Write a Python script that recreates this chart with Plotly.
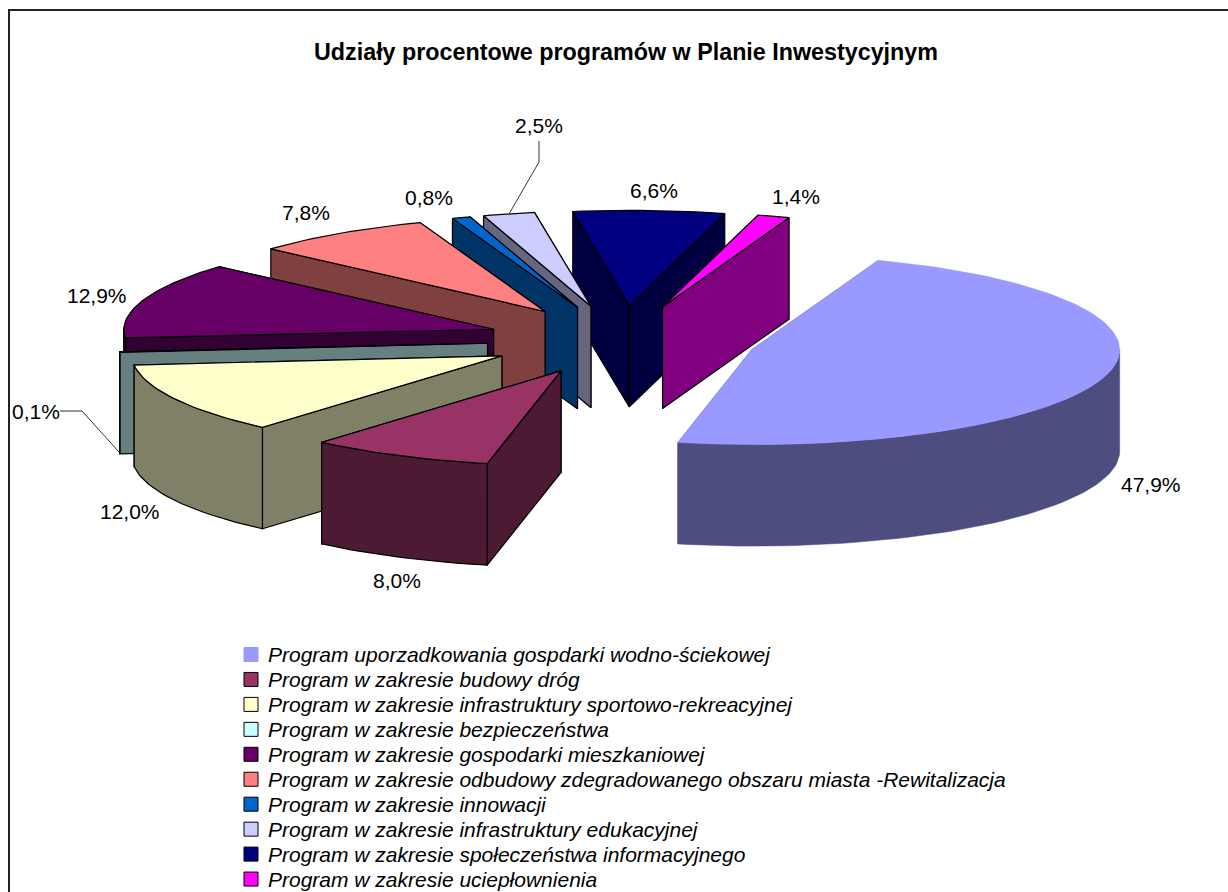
import math
import plotly.graph_objects as go

title = "Udziały procentowe programów w Planie Inwestycyjnym"
programs = [
    "Program uporzadkowania gospdarki wodno-ściekowej",
    "Program w zakresie budowy dróg",
    "Program w zakresie infrastruktury sportowo-rekreacyjnej",
    "Program w zakresie bezpieczeństwa",
    "Program w zakresie gospodarki mieszkaniowej",
    "Program w zakresie odbudowy zdegradowanego obszaru miasta -Rewitalizacja",
    "Program w zakresie innowacji",
    "Program w zakresie infrastruktury edukacyjnej",
    "Program w zakresie społeczeństwa informacyjnego",
    "Program w zakresie uciepłownienia",
]
shares = [47.9, 8.0, 12.0, 0.1, 12.9, 7.8, 0.8, 2.5, 6.6, 1.4]
top_colors = ["#9999FF", "#993366", "#FFFFCC", "#CCFFFF", "#660066",
              "#FF8080", "#0066CC", "#CCCCFF", "#000080", "#FF00FF"]
wall_colors = ["#4D4D80", "#4D1A33", "#808066", "#668080", "#330033",
               "#804040", "#003366", "#666680", "#000040", "#800080"]
outlined = [False] + [True] * 9

# pie projection (layout, not data)
W, H = 1228, 892
CX, CY = 622.0, 340.0
RX, RY = 370.0, 95.0
DEPTH = 101.5
EXPLODE = 0.365
FIRST_ANGLE = 20.0

label_x = [1151, 397, 130, 36, 97, 306, 429, 539, 654, 796]
label_y = [484, 580, 511, 411, 295, 212, 197, 125, 190, 196]


def pt(t):
    r = math.radians(t)
    s, c = math.sin(r), math.cos(r)
    px = RX * s
    if s < 0:
        f = 6.0 * abs(c)
        if c > 0:
            f *= min(1.0, max(0.0, (abs(s) - 0.15) / 0.15))
        px += f
    elif s > 0.5:
        px -= 2.0 * (s - 0.5) / 0.5
    return px, -RY * c


def arc(t0, t1, ax, ay, dy=0.0):
    n = max(2, int(abs(t1 - t0) / 1.5) + 2)
    out = []
    for i in range(n):
        t = t0 + (t1 - t0) * i / (n - 1)
        px, py = pt(t)
        out.append((ax + px, ay + py + dy))
    return out


fig = go.Figure()
slices = []
start = FIRST_ANGLE
for i, s in enumerate(shares):
    end = start + s * 3.6
    slices.append((i, start, end))
    start = end


def bis_cos(sl):
    return math.cos(math.radians((sl[1] + sl[2]) / 2))


def add_face(points, fill, line_on, name):
    xs = [p[0] for p in points] + [points[0][0]]
    ys = [p[1] for p in points] + [points[0][1]]
    fig.add_trace(go.Scatter(
        x=xs, y=ys, mode="lines", fill="toself", fillcolor=fill, name=name,
        line=dict(color="#000000" if line_on else fill, width=1.2 if line_on else 0.5),
        hoverinfo="skip", showlegend=False,
    ))


for i, t0, t1 in sorted(slices, key=bis_cos, reverse=True):
    mid = math.radians((t0 + t1) / 2)
    ax = CX + EXPLODE * RX * math.sin(mid)
    ay = CY - EXPLODE * RY * math.cos(mid)
    wall = wall_colors[i]
    line_on = outlined[i]
    radials = []
    for t in (t0, t1):
        px, py = pt(t)
        radials.append((py, [(ax, ay), (ax + px, ay + py),
                             (ax + px, ay + py + DEPTH), (ax, ay + DEPTH)]))
    for _, face in sorted(radials, key=lambda r: r[0]):
        add_face(face, wall, line_on, programs[i])
    # front-facing outer wall: the part of the arc between 90 and 270 degrees (mod 360)
    for k in (0, 360):
        a0, a1 = max(t0, 90 + k), min(t1, 270 + k)
        if a1 > a0:
            add_face(arc(a0, a1, ax, ay) + arc(a1, a0, ax, ay, DEPTH), wall, line_on, programs[i])
    add_face([(ax, ay)] + arc(t0, t1, ax, ay), top_colors[i], line_on, programs[i])

# legend rows
LEG_Y0, LEG_DY = 654.5, 24.95
leg_y = [LEG_Y0 + LEG_DY * k for k in range(len(programs))]
fig.add_trace(go.Scatter(
    x=[251] * len(programs), y=leg_y, mode="markers",
    marker=dict(symbol="square", size=14, color=top_colors,
                line=dict(color=["#9999FF"] + ["#000000"] * 9, width=1)),
    hoverinfo="skip", showlegend=False,
))
annotations = [dict(x=266, y=yy, text=f"<i>{p}</i>", xref="x", yref="y", showarrow=False,
                    xanchor="left", yanchor="middle", font=dict(size=21, color="#000000"))
               for p, yy in zip(programs, leg_y)]
annotations.append(dict(x=625.5, y=52, text=f"<b>{title}</b>", xref="x", yref="y", showarrow=False,
                        xanchor="center", yanchor="middle", font=dict(size=23.3, color="#000000")))
for s, lx, ly in zip(shares, label_x, label_y):
    annotations.append(dict(x=lx, y=ly, text=f"{s:.1f}%".replace(".", ","), xref="x", yref="y",
                            showarrow=False, xanchor="center", yanchor="middle",
                            font=dict(size=21, color="#000000")))

# leader lines
fig.add_trace(go.Scatter(x=[60, 82, 119, None, 539, 539, 509], y=[411, 411, 452, None, 141, 162, 214],
                         mode="lines", line=dict(color="#333333", width=1),
                         hoverinfo="skip", showlegend=False))

shapes = [dict(type="rect", xref="x", yref="y", x0=9, y0=10, x1=W + 20, y1=H + 20,
               line=dict(color="#222222", width=2), fillcolor="rgba(0,0,0,0)", layer="above")]

fig.update_layout(
    width=W, height=H, margin=dict(l=0, r=0, t=0, b=0),
    paper_bgcolor="#FFFFFF", plot_bgcolor="#FFFFFF",
    font=dict(family="Liberation Sans, Arial, sans-serif", color="#000000"),
    xaxis=dict(range=[0, W], visible=False, fixedrange=True),
    yaxis=dict(range=[H, 0], visible=False, fixedrange=True),
    annotations=annotations, shapes=shapes, showlegend=False,
)
fig.write_html("out.html", config={"displayModeBar": False},
               post_script="document.body.style.margin='0';document.body.style.overflow='hidden';")
